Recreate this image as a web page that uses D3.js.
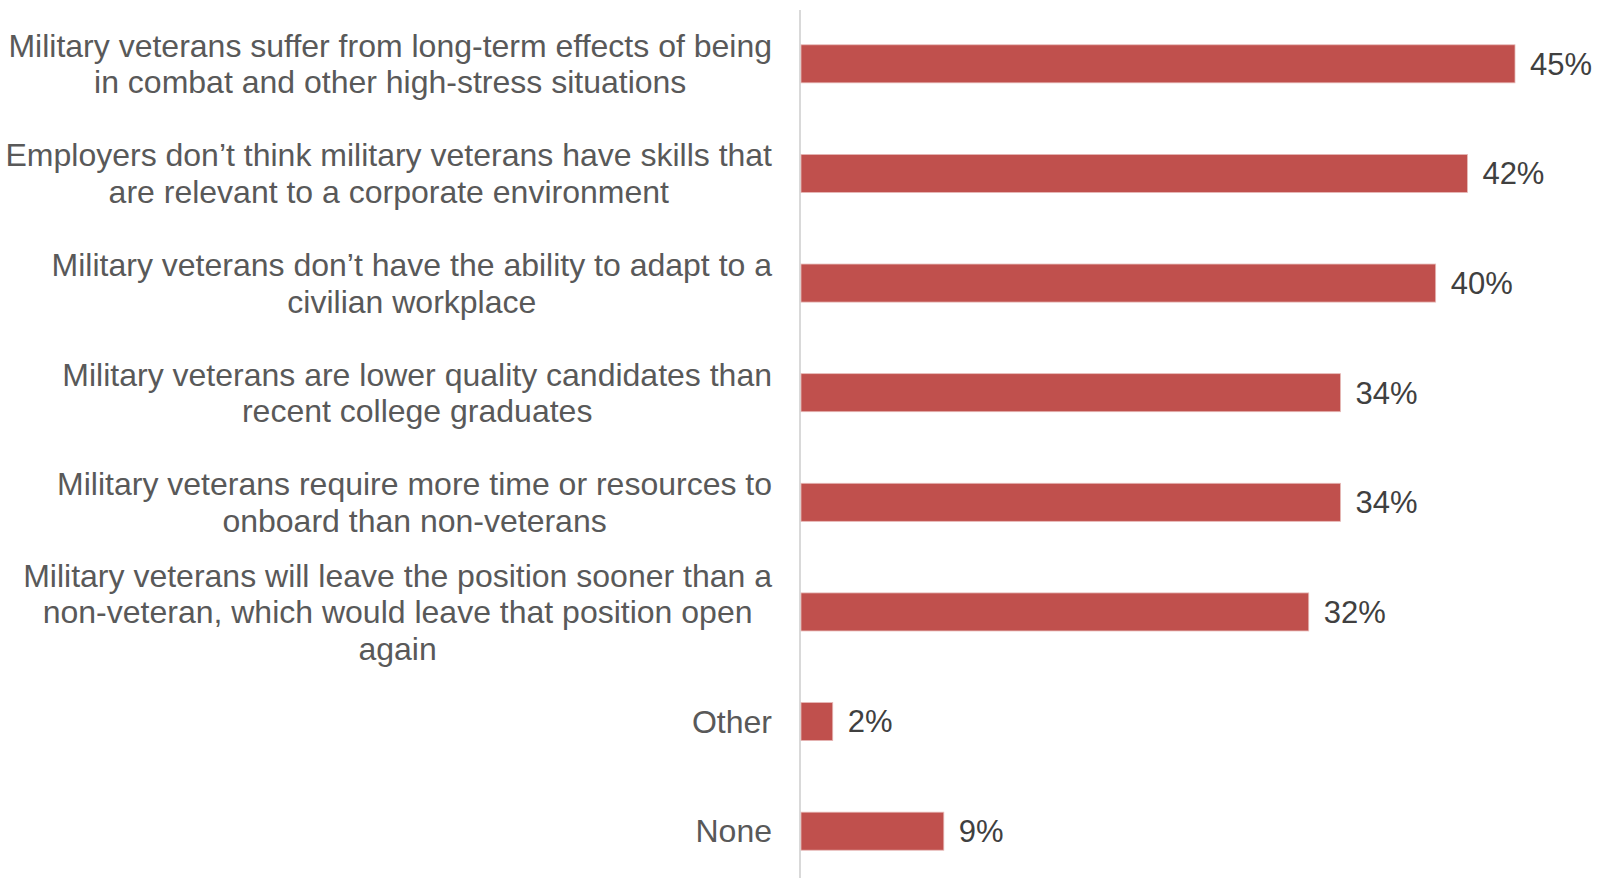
<!DOCTYPE html>
<html>
<head>
<meta charset="utf-8">
<script src="https://cdn.jsdelivr.net/npm/d3@7"></script>
<style>
  html, body { margin: 0; padding: 0; background: #fff; }
  svg { display: block; }
  text { font-family: "Liberation Sans", Arial, sans-serif; }
</style>
</head>
<body>
<svg id="chart" width="1606" height="878"></svg>
<script>
const categories = [
  ["Military veterans suffer from long-term effects of being", "in combat and other high-stress situations"],
  ["Employers don\u2019t think military veterans have skills that", "are relevant to a corporate environment"],
  ["Military veterans don\u2019t have the ability to adapt to a", "civilian workplace"],
  ["Military veterans are lower quality candidates than", "recent college graduates"],
  ["Military veterans require more time or resources to", "onboard than non-veterans"],
  ["Military veterans will leave the position sooner than a", "non-veteran, which would leave that position open", "again"],
  ["Other"],
  ["None"]
];
const values = [45, 42, 40, 34, 34, 32, 2, 9];
const valueLabels = ["45%", "42%", "40%", "34%", "34%", "32%", "2%", "9%"];

const svg = d3.select("#chart");
const idx = d3.range(categories.length);

const y = d3.scaleBand().domain(idx).range([9, 886]).paddingInner(0.653).paddingOuter(0.3265);
const x = d3.scaleLinear().domain([0, 45]).range([801, 1515]);

// axis line
svg.append("line")
  .attr("x1", 800).attr("x2", 800)
  .attr("y1", 10).attr("y2", 878)
  .attr("stroke", "#d9d9d9").attr("stroke-width", 2);

// bars
svg.selectAll("rect.bar").data(idx).enter().append("rect")
  .attr("class", "bar")
  .attr("x", x(0))
  .attr("y", d => y(d))
  .attr("width", d => x(values[d]) - x(0))
  .attr("height", y.bandwidth())
  .attr("fill", "#C0504D")
  .attr("stroke", "#e7b9b7").attr("stroke-width", 0.8);

// value labels
svg.selectAll("text.val").data(idx).enter().append("text")
  .attr("class", "val")
  .attr("x", d => x(values[d]) + 15)
  .attr("y", d => y(d) + y.bandwidth() / 2)
  .attr("dy", "0.35em")
  .attr("font-size", 31)
  .attr("fill", "#404040")
  .text(d => valueLabels[d]);

// category labels (centered block, right-aligned at 772)
const rightEdge = 772;
const lineH = 36.5;
const fs = 32;
idx.forEach(d => {
  const lines = categories[d];
  const g = svg.append("g");
  const cy = y(d) + y.bandwidth() / 2;
  const texts = lines.map((t, i) => g.append("text")
    .attr("y", cy + (i - (lines.length - 1) / 2) * lineH)
    .attr("dy", "0.35em")
    .attr("font-size", fs)
    .attr("fill", "#595959")
    .attr("text-anchor", "middle")
    .text(t));
  const maxW = d3.max(texts, t => t.node().getComputedTextLength());
  const cx = rightEdge - maxW / 2;
  texts.forEach(t => t.attr("x", cx));
});
</script>
</body>
</html>
